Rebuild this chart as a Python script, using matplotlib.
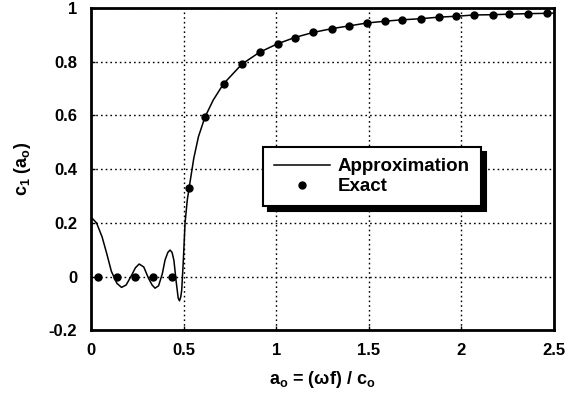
import matplotlib
matplotlib.use("Agg")
import matplotlib.pyplot as plt

# values
approx_x = [0.0, 0.03, 0.06, 0.085, 0.11, 0.14, 0.165, 0.19, 0.22, 0.24,
            0.26, 0.285, 0.31, 0.33, 0.346, 0.365, 0.385, 0.40, 0.415, 0.427,
            0.438, 0.448, 0.459, 0.471, 0.478, 0.485, 0.49, 0.498, 0.508, 0.52,
            0.53, 0.555, 0.58, 0.615, 0.66, 0.715, 0.815, 0.91, 1.005, 1.1,
            1.2, 1.3, 1.4, 1.49, 1.59, 1.68, 1.78, 1.88, 1.97, 2.07,
            2.17, 2.26, 2.36, 2.46, 2.5]
approx_y = [0.222, 0.2, 0.148, 0.086, 0.02, -0.025, -0.04, -0.031, 0.006, 0.033,
            0.047, 0.036, -0.005, -0.031, -0.043, -0.034, 0.01, 0.062, 0.09, 0.099,
            0.09, 0.06, -0.012, -0.08, -0.09, -0.075, -0.05, 0.05, 0.199, 0.285,
            0.33, 0.44, 0.52, 0.593, 0.657, 0.717, 0.791, 0.835, 0.866, 0.89,
            0.909, 0.923, 0.934, 0.944, 0.951, 0.956, 0.960, 0.966, 0.969, 0.974,
            0.975, 0.977, 0.979, 0.980, 0.981]

exact_x = [0.04, 0.14, 0.24, 0.335, 0.435, 0.53, 0.616, 0.718, 0.817, 0.913,
           1.01, 1.10, 1.20, 1.30, 1.395, 1.49, 1.59, 1.68, 1.78, 1.88,
           1.97, 2.07, 2.17, 2.26, 2.36, 2.46]
exact_y = [0.0, 0.0, 0.0, 0.0, 0.0, 0.331, 0.593, 0.717, 0.791, 0.835,
           0.866, 0.889, 0.909, 0.923, 0.934, 0.944, 0.951, 0.956, 0.960, 0.966,
           0.969, 0.974, 0.975, 0.977, 0.979, 0.980]

xticks = [0, 0.5, 1, 1.5, 2, 2.5]
xtick_labels = ["0", "0.5", "1", "1.5", "2", "2.5"]
yticks = [-0.2, 0, 0.2, 0.4, 0.6, 0.8, 1]
ytick_labels = ["-0.2", "0", "0.2", "0.4", "0.6", "0.8", "1"]

plt.rcParams['font.family'] = ['Liberation Sans', 'DejaVu Sans']
plt.rcParams['font.weight'] = 'bold'
plt.rcParams['axes.labelweight'] = 'bold'
plt.rcParams['mathtext.fontset'] = 'custom'
plt.rcParams['mathtext.rm'] = 'Liberation Sans:bold'
plt.rcParams['mathtext.it'] = 'Liberation Sans:bold'

fig = plt.figure(figsize=(5.74, 3.99), dpi=100)
ax = fig.add_axes([0.1585, 0.172, 0.8065, 0.808])

ax.plot(approx_x, approx_y, color='black', linewidth=1.1, label='Approximation')
ax.plot(exact_x, exact_y, linestyle='none', marker='o', markersize=5,
        color='black', label='Exact')

ax.set_xlim(0, 2.5)
ax.set_ylim(-0.2, 1.0)
ax.set_xticks(xticks)
ax.set_xticklabels(xtick_labels)
ax.set_yticks(yticks)
ax.set_yticklabels(ytick_labels)
ax.tick_params(direction='in', length=3, width=1, labelsize=12, pad=9)
ax.tick_params(axis='y', pad=10)

ax.grid(True, color='black', linestyle=(0, (1.2, 2.2)), linewidth=1)
for s in ax.spines.values():
    s.set_linewidth(2)

ax.set_xlabel(r"a$_{\mathregular{o}}$ = (ωf) / c$_{\mathregular{o}}$", fontsize=13, labelpad=8)
ax.set_ylabel(r"c$_{\mathregular{1}}$ (a$_{\mathregular{o}}$)", fontsize=13, labelpad=11)

leg = ax.legend(loc='upper left', bbox_to_anchor=(0.3715, 0.569), fontsize=13.5,
                frameon=True, fancybox=False, edgecolor='black', framealpha=1,
                handlelength=3.0, borderpad=0.6, labelspacing=0.15,
                handletextpad=0.4, borderaxespad=0,
                shadow={'color': 'black', 'alpha': 1, 'ox': 3.5, 'oy': -3.5})
leg.get_frame().set_linewidth(1.5)

fig.savefig("out.png", dpi=100)
